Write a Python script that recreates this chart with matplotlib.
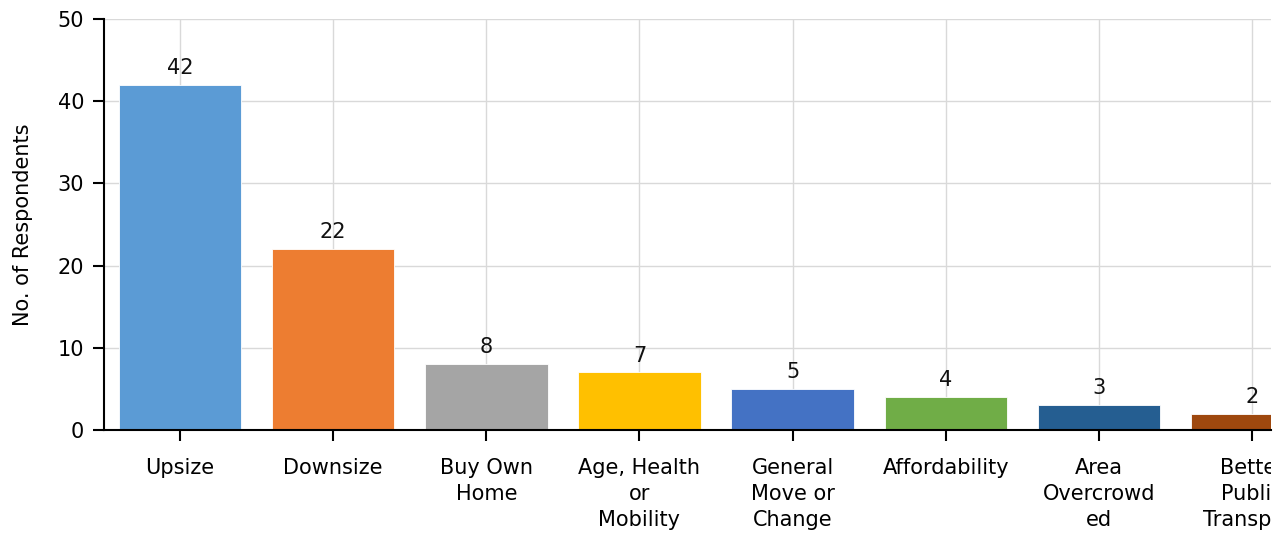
import matplotlib
matplotlib.use("Agg")
import matplotlib.pyplot as plt
from matplotlib.transforms import Bbox, TransformedBbox

categories = ["Upsize", "Downsize", "Buy Own\nHome", "Age, Health\nor\nMobility",
              "General\nMove or\nChange", "Affordability", "Area\nOvercrowd\ned",
              "Better\nPublic\nTransport"]
values = [42, 22, 8, 7, 5, 4, 3, 2]
colors = ["#5B9BD5", "#ED7D31", "#A5A5A5", "#FFC000", "#4472C4", "#70AD47",
          "#255E91", "#9E480E"]
yticks = [0, 10, 20, 30, 40, 50]

plt.rcParams['font.family'] = ['DejaVu Sans']
FS = 15

W, H = 1288, 533
fig = plt.figure(figsize=(W / 100, H / 100), dpi=100)
left, bottom, top = 103.5, 430, 19
slot = 153.14
clip_right = 1271
ax = fig.add_axes([left / W, (H - bottom) / H, (clip_right - left) / W, (bottom - top) / H])

x = list(range(len(categories)))
ax.bar(x, values, width=0.8, color=colors, edgecolor="white", linewidth=0.6, zorder=2)
for xi, v in zip(x, values):
    ax.annotate(str(v), (xi, v), xytext=(0, 5), textcoords="offset points",
                ha="center", va="bottom", fontsize=FS, color="#111111", zorder=3)

ax.set_xlim(-0.5, -0.5 + (clip_right - left) / slot)
ax.set_ylim(0, 50)
ax.set_yticks(yticks)
ax.set_xticks(x)
ax.set_xticklabels(categories, fontsize=FS, linespacing=1.38)
ax.tick_params(axis="y", labelsize=FS, length=8, width=1.5, pad=6)
ax.tick_params(axis="x", length=8, width=1.5, pad=12)
ax.grid(True, color="#d9d9d9", linewidth=1, zorder=0)
ax.set_axisbelow(True)
for s in ["top", "right"]:
    ax.spines[s].set_visible(False)
for s in ["left", "bottom"]:
    ax.spines[s].set_linewidth(1.5)
ax.set_ylabel("No. of Respondents", fontsize=FS, labelpad=18)

clipbox = TransformedBbox(Bbox([[0, 0], [clip_right / W, 1]]), fig.transFigure)
for lab in ax.get_xticklabels():
    lab.set_clip_box(clipbox)
    lab.set_clip_on(True)

fig.savefig("out.png", dpi=100)
